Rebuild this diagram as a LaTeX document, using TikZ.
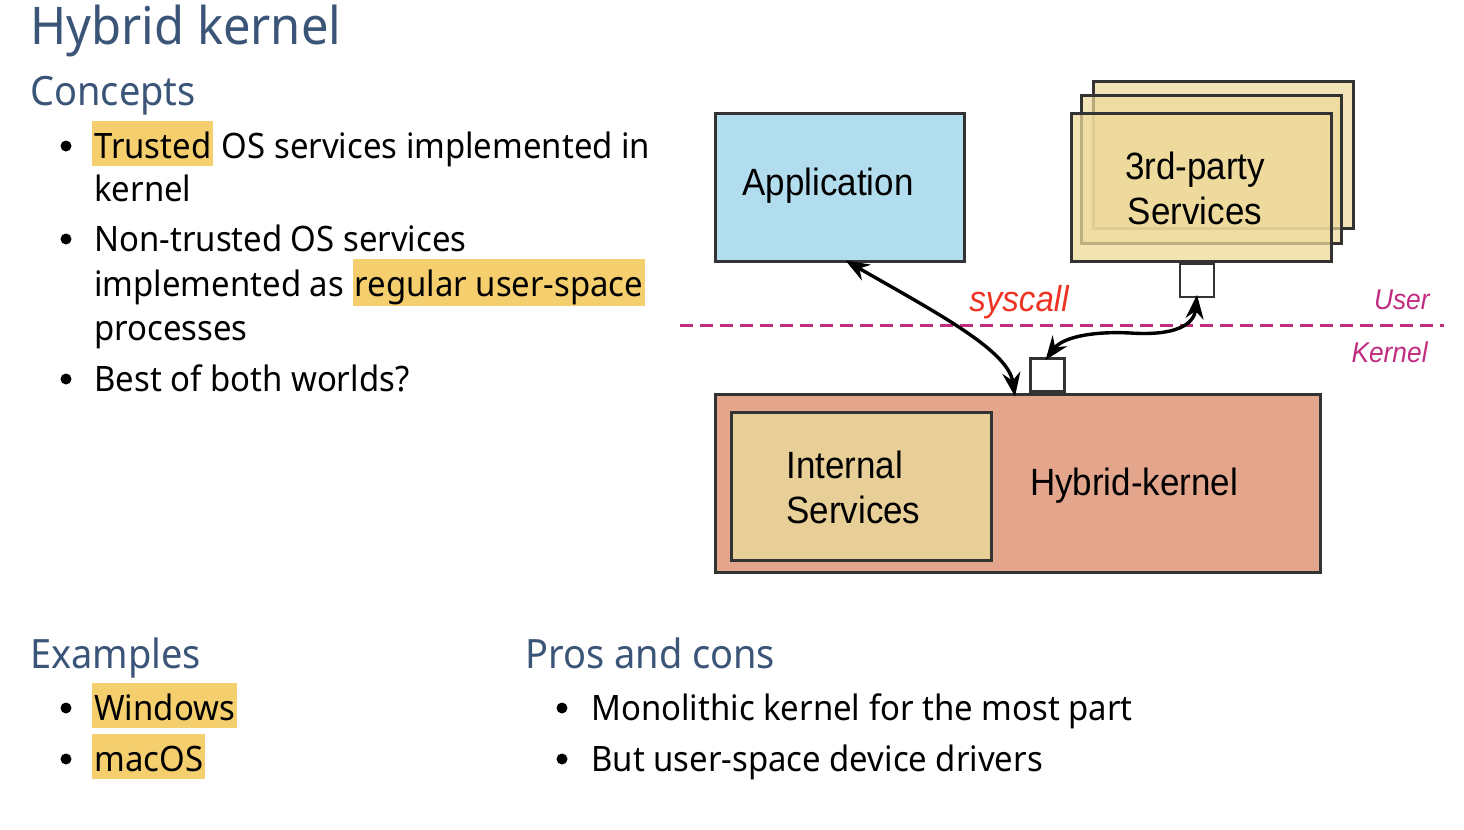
\documentclass[tikz,border=0pt]{standalone}
\usepackage{fontspec}
\setmainfont{Noto Sans}[FakeStretch=0.94]
\newfontfamily\diagfont{Liberation Sans}[FakeStretch=0.92]
\usepackage{xcolor}
\usetikzlibrary{arrows.meta,positioning,calc}

\definecolor{titleblue}{HTML}{3B5579}
\definecolor{hlyellow}{HTML}{F5CE6E}
\definecolor{appblue}{HTML}{B2DDEE}
\definecolor{tpyellow}{HTML}{EDD99A}
\definecolor{kernred}{HTML}{E3A68C}
\definecolor{intyellow}{HTML}{E8CF97}
\definecolor{boxgray}{HTML}{333333}
\definecolor{ringmagenta}{HTML}{C02C80}
\definecolor{callred}{HTML}{EE3324}

\newcommand{\hlbox}[1]{{\setlength{\fboxsep}{1pt}\colorbox{hlyellow}{\rule[-3pt]{0pt}{20.5pt}#1}}}

\tikzset{
  titletext/.style={anchor=base west, inner sep=0pt, text=titleblue, font=\fontsize{26}{30}\selectfont},
  heading/.style={anchor=base west, inner sep=0pt, text=titleblue, font=\fontsize{20.2}{24}\selectfont},
  bodytext/.style={anchor=base west, inner sep=0pt, font=\fontsize{17.5}{21}\selectfont},
  bulletdot/.style={circle, fill=black, inner sep=0pt, minimum size=5.5pt},
  box/.style={draw=boxgray, line width=1.5pt, inner sep=0pt},
  boxtext/.style={inner sep=0pt, align=center, font=\diagfont\fontsize{19}{22.5}\selectfont},
  port/.style={draw=boxgray, line width=1.2pt, fill=white, minimum width=17pt, minimum height=16.5pt, inner sep=0pt},
  conn/.style={line width=1.7pt, {Stealth[length=12pt,width=9pt,inset=4pt]}-{Stealth[length=12pt,width=9pt,inset=4pt]}},
  ringlabel/.style={inner sep=0pt, text=ringmagenta, font=\diagfont\itshape\fontsize{14.3}{17}\selectfont},
}

\begin{document}
\begin{tikzpicture}[x=0.5pt,y=-0.5pt]
  \useasboundingbox (0,0) rectangle (1464,830);

  % Title and concepts
  \node[titletext] (title) at (30,45) {Hybrid kernel};
  \node[heading] (concepts) at (30,105) {Concepts};
  \node[bulletdot] (b1) at (66,146) {};
  \node[bodytext] (c1a) at (92,158) {\hlbox{Trusted} OS services implemented in};
  \node[bodytext] (c1b) at (94,201) {kernel};
  \node[bulletdot] (b2) at (66,239) {};
  \node[bodytext] (c2a) at (94,251) {Non-trusted OS services};
  \node[bodytext] (c2b) at (94,296) {implemented as \hlbox{regular user-space}};
  \node[bodytext] (c2c) at (94,340) {processes};
  \node[bulletdot] (b3) at (66,379) {};
  \node[bodytext] (c3) at (94,391) {Best of both worlds?};

  % Examples
  \node[heading] (examples) at (30,668) {Examples};
  \node[bulletdot] (b4) at (66,708) {};
  \node[bodytext] (e1) at (92,720) {\hlbox{Windows}};
  \node[bulletdot] (b5) at (66,759) {};
  \node[bodytext] (e2) at (92,771) {\hlbox{macOS}};

  % Pros and cons
  \node[heading] (pros) at (525,668) {Pros and cons};
  \node[bulletdot] (b6) at (562,708) {};
  \node[bodytext] (p1) at (591,720) {Monolithic kernel for the most part};
  \node[bulletdot] (b7) at (562,759) {};
  \node[bodytext] (p2) at (591,771) {But user-space device drivers};

  % User / kernel boundary
  \draw[ringmagenta, line width=1.5pt, dash pattern=on 6.5pt off 3.5pt] (680,325) -- (1444,325);
  \node[ringlabel, anchor=base east] (user) at (1430,309) {User};
  \node[ringlabel, anchor=base east] (kernlbl) at (1428,362) {Kernel};

  % Application
  \node[box, fill=appblue, minimum width=124.5pt, minimum height=74pt] (app) at (839.5,187) {};
  \node[boxtext] (applbl) at (828,186) {Application};

  % 3rd-party services, stacked
  \node[box, fill=tpyellow, fill opacity=0.7, minimum width=130pt, minimum height=73.5pt] (tp3) at (1223,154.5) {};
  \node[box, fill=tpyellow, fill opacity=0.7, minimum width=130pt, minimum height=74pt] (tp2) at (1211,169) {};
  \node[box, fill=tpyellow, fill opacity=0.75, minimum width=130pt, minimum height=74pt] (tp1) at (1201,187) {};
  \node[boxtext] (tplbl) at (1195,188) {3rd-party\\Services};
  \node[port, below=0pt of tp1.south, xshift=-2pt] (tport) {};

  % Hybrid kernel
  \node[box, fill=kernred, minimum width=302.5pt, minimum height=89pt] (kern) at (1017.5,483) {};
  \node[box, fill=intyellow, minimum width=130pt, minimum height=74pt] (intsrv) at (861,486) {};
  \node[boxtext, align=left, anchor=west] (intlbl) at (786,487) {Internal\\Services};
  \node[boxtext] (kernlbl2) at (1134,486) {Hybrid-kernel};
  \node[port, above=0pt of kern.north, xshift=15pt] (kport) {};

  % syscalls
  \node[inner sep=0pt, anchor=base, text=callred, font=\diagfont\itshape\fontsize{18}{21}\selectfont] (syscall) at (1019,311) {syscall};
  \draw[conn] ([xshift=3pt,yshift=1pt]app.south) .. controls (935,312) and (1008,350) .. ([xshift=-1.25pt,yshift=-2pt]kern.north);
  \draw[conn] ([xshift=-1pt,yshift=-1.5pt]kport.north) .. controls (1062,338) and (1090,331) .. (1130,333) .. controls (1175,336) and (1194,325) .. ([yshift=1.5pt]tport.south);
\end{tikzpicture}
\end{document}
